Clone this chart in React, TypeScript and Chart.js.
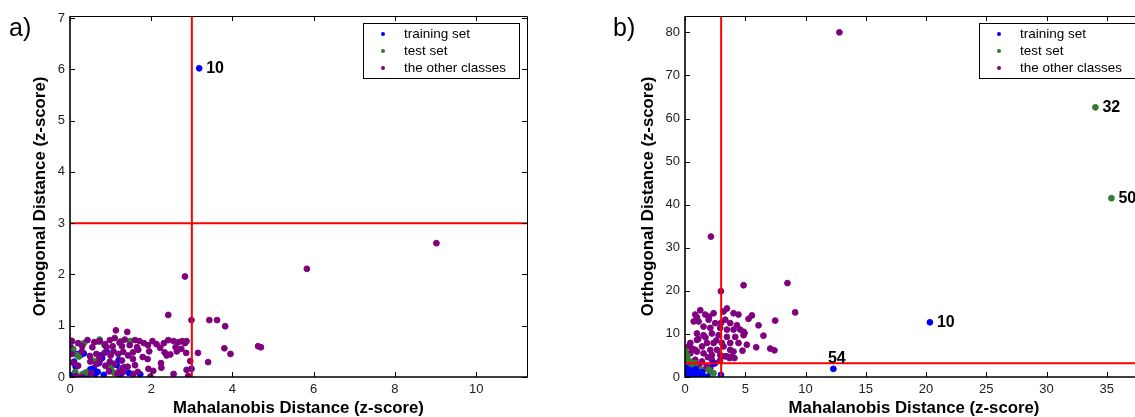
import React, { useEffect, useRef } from 'react';
import { Chart, registerables } from 'chart.js';
Chart.register(...registerables);

type P = [number, number];

// ---------- Panel a) data ----------
const trainingA: P[] = [
  [0.00, 0.00], [0.05, 0.03], [0.10, 0.30], [0.14, 0.20], [0.17, 0.45], [0.26, 0.43], [0.34, 0.46],
  [0.38, 0.08], [0.42, 0.02], [0.50, 0.15], [0.58, 0.17], [0.62, 0.05], [0.71, 0.27], [0.75, 0.42],
  [0.79, 0.37], [0.83, 0.04], [0.90, 0.50], [0.95, 0.20], [1.02, 0.12], [1.15, 0.23], [1.20, 0.33],
  [1.25, 0.05], [1.31, 0.14], [1.36, 0.19], [1.45, 0.08], [1.73, 0.05], [0.22, 0.00], [0.68, 0.10],
  [2.99, 0.16], [3.18, 6.02],
];
const testA: P[] = [
  [0.02, 0.71], [0.13, 0.10], [0.17, 0.43], [0.22, 0.40], [0.34, 0.66], [0.41, 0.09], [0.56, 0.32],
  [0.62, 0.30], [0.71, 0.69], [0.73, 0.73], [0.98, 0.26], [1.00, 0.17], [1.02, 0.23], [1.09, 0.08],
  [1.48, 0.70], [0.30, 0.05], [0.08, 0.55], [0.85, 0.62], [1.25, 0.70],
];
const otherA: P[] = [
  [2.83, 1.96], [2.42, 1.21], [2.99, 1.11], [3.43, 1.11], [3.62, 1.11], [3.82, 0.99], [1.13, 0.91],
  [1.41, 0.88], [3.80, 0.56], [3.95, 0.45], [4.63, 0.60], [4.70, 0.58], [3.15, 0.47], [3.40, 0.29],
  [2.96, 0.31], [2.87, 0.14], [2.55, 0.06], [1.98, 0.01], [2.24, 0.27], [2.25, 0.18], [1.91, 0.35],
  [5.83, 2.11], [9.02, 2.61], [2.86, 0.47], [2.87, 0.70], [2.91, 0.02],
  [0.00, 0.62], [0.05, 0.70], [0.20, 0.66], [0.43, 0.72], [0.60, 0.68], [0.73, 0.70], [0.86, 0.64],
  [0.98, 0.72], [1.10, 0.76], [1.22, 0.67], [1.35, 0.73], [1.47, 0.62], [1.60, 0.72], [1.71, 0.70],
  [1.82, 0.66], [1.92, 0.62], [2.03, 0.70], [2.13, 0.64], [2.31, 0.66], [2.42, 0.72], [2.55, 0.70],
  [2.67, 0.68], [2.76, 0.70], [2.83, 0.66], [0.30, 0.60], [0.55, 0.58], [0.90, 0.58], [1.05, 0.60],
  [1.28, 0.60], [1.65, 0.58], [2.22, 0.57], [2.60, 0.58],
  [0.04, 0.45], [0.29, 0.50], [0.49, 0.41], [0.65, 0.45], [0.85, 0.47], [1.07, 0.50], [1.19, 0.45],
  [1.31, 0.49], [1.43, 0.42], [1.55, 0.48], [1.79, 0.39], [1.95, 0.50], [2.33, 0.48], [2.47, 0.44],
  [2.63, 0.50], [2.74, 0.55], [2.38, 0.42], [0.72, 0.38], [1.00, 0.42], [1.68, 0.53],
  [0.08, 0.28], [0.20, 0.22], [0.65, 0.25], [0.74, 0.32], [0.87, 0.22], [0.98, 0.30], [1.10, 0.26],
  [1.30, 0.18], [1.42, 0.20], [1.60, 0.23], [1.93, 0.16], [2.05, 0.12], [1.28, 0.32], [0.50, 0.30],
  [1.22, 0.12], [1.55, 0.35],
  [0.15, 0.02], [0.52, 0.08], [0.96, 0.11], [1.17, 0.06], [1.31, 0.10], [1.56, 0.06], [1.67, 0.10],
  [0.30, 0.00],
];
const xTicksA = [0, 2, 4, 6, 8, 10];
const yTicksA = [0, 1, 2, 3, 4, 5, 6, 7];
const xRangeA: P = [0, 11.25];
const yRangeA: P = [0, 7.04];
const limitsA: P = [3, 3]; // [Mahalanobis limit, orthogonal limit]
const pointLabelsA = [{ series: 0, index: 29, text: '10', place: 'right' }];

// ---------- Panel b) data ----------
const trainingB: P[] = [
  [0.00, 0.5], [0.05, 1.2], [0.15, 0.2], [0.30, 0.8], [0.40, 0.1], [0.50, 1.5], [0.60, 0.3],
  [0.70, 0.9], [0.80, 0.0], [0.90, 1.8], [1.00, 0.4], [1.20, 0.6], [1.40, 1.1], [1.50, 0.2],
  [1.87, 0.1], [2.37, 3.1], [2.98, 0.5], [0.10, 2.1], [0.30, 1.7], [12.31, 1.9], [20.32, 12.7],
];
const testB: P[] = [
  [0.00, 6.2], [0.05, 3.4], [0.16, 4.0], [0.44, 3.6], [0.85, 3.2], [0.00, 2.0], [0.50, 1.0],
  [0.80, 0.6], [0.90, 0.1], [1.10, 0.5], [1.30, 1.7], [1.54, 0.2], [1.96, 1.7], [2.37, 0.9],
  [2.10, 1.2], [0.20, 5.0], [0.60, 2.2], [1.20, 0.1], [34.05, 62.6], [35.38, 41.5],
];
const otherB: P[] = [
  [12.81, 80.0], [2.15, 32.6], [2.98, 19.9], [4.86, 21.3], [8.50, 21.8], [9.14, 15.0], [7.48, 13.1],
  [6.10, 12.0], [6.51, 9.6], [5.91, 6.9], [7.07, 6.6], [7.42, 6.2], [5.55, 14.3], [5.27, 13.5],
  [4.94, 10.2], [4.77, 6.1],
  [1.27, 15.5], [0.85, 14.5], [1.68, 14.5], [2.37, 14.8], [3.20, 15.2], [3.48, 15.9], [4.03, 14.8],
  [4.44, 14.5], [0.72, 12.9], [1.13, 12.9], [1.96, 13.3], [2.51, 12.5], [3.34, 13.3], [3.75, 12.5],
  [4.31, 12.0], [1.54, 11.7], [2.10, 11.4], [2.92, 11.4], [3.48, 11.0], [4.03, 11.0], [4.58, 11.0],
  [4.86, 10.5], [0.99, 10.1], [1.54, 9.7], [2.23, 10.1], [2.79, 9.7], [3.48, 9.3], [4.17, 9.3],
  [4.86, 9.7], [0.44, 7.9], [0.99, 8.6], [1.82, 7.9], [2.37, 7.9], [3.06, 7.9], [3.75, 7.9],
  [4.44, 7.9], [5.13, 7.5], [0.30, 7.1], [0.85, 6.3], [1.41, 7.1], [2.10, 6.3], [2.65, 6.3],
  [3.20, 7.1], [3.75, 6.3], [4.03, 5.9], [0.44, 5.5], [0.99, 5.9], [1.54, 5.5], [2.23, 5.1],
  [2.92, 5.1], [3.48, 4.8], [3.89, 4.8], [0.16, 4.4], [0.85, 4.0], [1.41, 3.6], [2.23, 4.0],
  [3.30, 4.8], [3.70, 4.4], [4.10, 4.4], [1.20, 3.0], [1.80, 2.6], [0.60, 2.8], [2.50, 3.2],
  [1.10, 8.8], [1.70, 9.2], [2.60, 8.5], [3.00, 12.6], [2.00, 14.0], [1.00, 13.8], [0.60, 6.6],
  [1.90, 4.6], [2.90, 3.8], [0.30, 3.4], [1.50, 1.6], [2.10, 2.1],
];
const xTicksB = [0, 5, 10, 15, 20, 25, 30, 35];
const yTicksB = [0, 10, 20, 30, 40, 50, 60, 70, 80];
const xRangeB: P = [0, 38];
const yRangeB: P = [0, 83.8];
const limitsB: P = [3, 3.2];
const pointLabelsB = [
  { series: 0, index: 19, text: '54', place: 'above' },
  { series: 0, index: 20, text: '10', place: 'right' },
  { series: 1, index: 18, text: '32', place: 'right' },
  { series: 1, index: 19, text: '50', place: 'right' },
];

const seriesNames = ['training set', 'test set', 'the other classes'];
const COLORS = ['#0000ff', '#347c34', '#800080'];
const FONT = "'Liberation Sans', Arial, sans-serif";

function buildConfig(o: {
  series: P[][]; order: number[]; xTicks: number[]; yTicks: number[]; xRange: P; yRange: P;
  limits: P; pointLabels: { series: number; index: number; text: string; place: string }[];
  letter: string; yWidth: number; padRight: number; yTitlePad: number;
}): any {
  const pts = (a: P[]) => a.map(([x, y]) => ({ x, y }));
  const scatterSets = o.series.map((s, i) => ({
    type: 'scatter',
    label: seriesNames[i],
    data: pts(s),
    backgroundColor: COLORS[i],
    borderColor: COLORS[i],
    borderWidth: 1,
    pointRadius: 2.9,
    order: o.order[i],
    legendItem: true,
  }));
  const redLine = (data: P[]) => ({
    type: 'line',
    data: pts(data),
    borderColor: '#ff0000',
    borderWidth: 2,
    pointRadius: 0,
    showLine: true,
    fill: false,
    order: 0,
  });
  const datasets = [
    ...scatterSets,
    redLine([[o.limits[0], o.yRange[0]], [o.limits[0], o.yRange[1]]]),
    redLine([[o.xRange[0], o.limits[1]], [o.xRange[1], o.limits[1]]]),
  ];

  const tickFont = { family: FONT, size: 13, lineHeight: 1.2 };
  const titleFont = { family: FONT, size: 16.8, weight: 'bold', lineHeight: 1 };

  const decor = {
    id: 'decor',
    afterDraw(chart: any) {
      const { ctx, chartArea: ca, scales } = chart;
      const { left, right, top, bottom } = ca;
      const xs = scales.x, ys = scales.y;
      ctx.save();
      // inward ticks on all four sides
      ctx.strokeStyle = '#000';
      ctx.lineWidth = 1;
      ctx.beginPath();
      xs.ticks.forEach((t: any) => {
        const px = Math.round(xs.getPixelForValue(t.value)) + 0.5;
        ctx.moveTo(px, bottom); ctx.lineTo(px, bottom - 5);
        ctx.moveTo(px, top); ctx.lineTo(px, top + 5);
      });
      ys.ticks.forEach((t: any) => {
        const py = Math.round(ys.getPixelForValue(t.value)) + 0.5;
        ctx.moveTo(left, py); ctx.lineTo(left + 5, py);
        ctx.moveTo(right, py); ctx.lineTo(right - 5, py);
      });
      ctx.stroke();
      // frame
      ctx.lineWidth = 1;
      ctx.beginPath();
      ctx.moveTo(left, top + 0.5); ctx.lineTo(right + 0.5, top + 0.5); ctx.lineTo(right + 0.5, bottom);
      ctx.stroke();
      ctx.lineWidth = 1.6;
      ctx.beginPath();
      ctx.moveTo(left, top); ctx.lineTo(left, bottom); ctx.lineTo(right + 1, bottom);
      ctx.stroke();

      // point labels
      ctx.fillStyle = '#000';
      ctx.font = `bold 16px ${FONT}`;
      o.pointLabels.forEach((l) => {
        const p = o.series[l.series][l.index];
        const px = xs.getPixelForValue(p[0]);
        const py = ys.getPixelForValue(p[1]);
        if (l.place === 'right') {
          ctx.textAlign = 'left'; ctx.textBaseline = 'middle';
          ctx.fillText(l.text, px + 7, py + 0.5);
        } else {
          ctx.textAlign = 'center'; ctx.textBaseline = 'middle';
          ctx.fillText(l.text, px + 3.5, py - 10);
        }
      });

      // legend box
      const bw = 157, bh = 56;
      const bx = Math.round(right - 7 - bw), by = Math.round(top + 7);
      ctx.fillStyle = '#fff';
      ctx.fillRect(bx, by, bw, bh);
      ctx.strokeStyle = '#000';
      ctx.lineWidth = 1;
      ctx.strokeRect(bx + 0.5, by + 0.5, bw - 1, bh - 1);
      ctx.font = `13.5px ${FONT}`;
      ctx.textAlign = 'left'; ctx.textBaseline = 'middle';
      chart.data.datasets.filter((d: any) => d.legendItem).forEach((d: any, i: number) => {
        const ry = by + 11 + i * 17;
        ctx.fillStyle = d.backgroundColor;
        ctx.beginPath(); ctx.arc(bx + 20, ry, 2, 0, Math.PI * 2); ctx.fill();
        ctx.fillStyle = '#000';
        ctx.fillText(d.label, bx + 41, ry);
      });

      // panel letter
      ctx.font = `25px ${FONT}`;
      ctx.textAlign = 'left'; ctx.textBaseline = 'alphabetic';
      ctx.fillStyle = '#000';
      ctx.fillText(o.letter, left - o.yWidth + (o.letter === 'a)' ? 9 : 23), 36);
      ctx.restore();
    },
  };

  return {
    type: 'scatter',
    data: { datasets },
    options: {
      animation: false,
      responsive: false,
      events: [],
      layout: { padding: { top: 16, right: o.padRight, bottom: 0, left: 0 } },
      plugins: { legend: { display: false }, tooltip: { enabled: false } },
      scales: {
        x: {
          type: 'linear',
          min: o.xRange[0],
          max: o.xRange[1],
          grid: { display: false, drawTicks: false },
          border: { display: false },
          afterBuildTicks: (s: any) => { s.ticks = o.xTicks.map((v) => ({ value: v })); },
          afterFit: (s: any) => { s.height = 40; },
          ticks: { font: tickFont, color: '#222', padding: 5, autoSkip: false, maxRotation: 0 },
          title: {
            display: true, text: 'Mahalanobis Distance (z-score)', font: titleFont, color: '#000',
            padding: { top: 0, bottom: 0 },
          },
        },
        y: {
          type: 'linear',
          min: o.yRange[0],
          max: o.yRange[1],
          grid: { display: false, drawTicks: false },
          border: { display: false },
          afterBuildTicks: (s: any) => { s.ticks = o.yTicks.map((v) => ({ value: v })); },
          afterFit: (s: any) => { s.width = o.yWidth; },
          ticks: { font: tickFont, color: '#222', padding: 5, autoSkip: false },
          title: {
            display: true, text: 'Orthogonal Distance (z-score)', font: titleFont, color: '#000',
            padding: { top: o.yTitlePad, bottom: 0 },
          },
        },
      },
    },
    plugins: [decor],
  };
}

function Panel({ config, left, width }: { config: any; left: number; width: number }) {
  const ref = useRef<HTMLCanvasElement>(null);
  useEffect(() => {
    const chart = new Chart(ref.current as HTMLCanvasElement, config);
    return () => chart.destroy();
  }, [config]);
  return (
    <canvas
      ref={ref}
      width={width}
      height={417}
      style={{ position: 'absolute', left, top: 0, width, height: 417 }}
    />
  );
}

const configA = buildConfig({
  series: [trainingA, testA, otherA], order: [3, 2, 1],
  xTicks: xTicksA, yTicks: yTicksA, xRange: xRangeA, yRange: yRangeA,
  limits: limitsA, pointLabels: pointLabelsA, letter: 'a)', yWidth: 70, padRight: 33, yTitlePad: 31.5,
});
const configB = buildConfig({
  series: [trainingB, testB, otherB], order: [1, 2, 3],
  xTicks: xTicksB, yTicks: yTicksB, xRange: xRangeB, yRange: yRangeB,
  limits: limitsB, pointLabels: pointLabelsB, letter: 'b)', yWidth: 95, padRight: 7, yTitlePad: 49.8,
});

export default function App() {
  return (
    <div style={{ position: 'absolute', left: 0, top: 0, width: 1135, height: 417, overflow: 'hidden', background: '#fff' }}>
      <Panel config={configA} left={0} width={560} />
      <Panel config={configB} left={590} width={560} />
    </div>
  );
}
